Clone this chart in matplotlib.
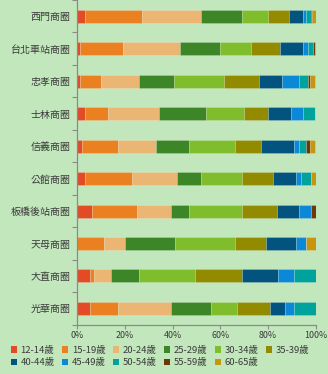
import numpy as np
import matplotlib
matplotlib.use("Agg")
import matplotlib.pyplot as plt
from matplotlib.patches import Patch

plt.rcParams['font.family'] = ['Noto Sans CJK TC', 'DejaVu Sans']

# Data (percent share of each age group per shopping district)
districts = ["西門商圈", "台北車站商圈", "忠孝商圈", "士林商圈", "信義商圈",
             "公館商圈", "板橋後站商圈", "天母商圈", "大直商圈", "光華商圈"]
age_groups = ["12-14歲", "15-19歲", "20-24歲", "25-29歲", "30-34歲", "35-39歲",
              "40-44歲", "45-49歲", "50-54歲", "55-59歲", "60-65歲"]

a12_14 = [3.1, 1.1, 1.1, 3.1, 2.0, 3.1, 6.0, 0.0, 5.2, 5.2]
a15_19 = [24.1, 18.1, 8.7, 9.8, 15.1, 19.9, 18.9, 11.1, 1.7, 11.8]
a20_24 = [24.8, 23.8, 16.0, 21.2, 15.8, 18.9, 14.2, 9.0, 7.2, 22.2]
a25_29 = [17.0, 16.8, 14.7, 19.9, 14.0, 10.1, 7.7, 20.9, 11.8, 16.8]
a30_34 = [11.1, 13.3, 21.0, 16.1, 19.2, 17.1, 22.3, 25.2, 23.4, 11.1]
a35_39 = [8.8, 11.8, 14.7, 10.0, 10.8, 12.9, 14.9, 12.9, 19.8, 13.9]
a40_44 = [6.0, 10.0, 9.8, 9.8, 14.0, 10.0, 9.0, 12.9, 15.0, 6.0]
a45_49 = [1.1, 2.1, 6.9, 5.0, 2.1, 2.0, 4.9, 3.8, 6.9, 3.9]
a50_54 = [2.0, 1.8, 4.1, 5.0, 2.9, 3.9, 0.3, 0.0, 9.1, 9.1]
a55_59 = [0.7, 0.8, 0.7, 0.0, 1.8, 0.0, 1.8, 0.0, 0.0, 0.0]
a60_65 = [1.3, 0.3, 2.2, 0.0, 2.1, 2.1, 0.0, 4.2, 0.0, 0.0]

series = [a12_14, a15_19, a20_24, a25_29, a30_34, a35_39,
          a40_44, a45_49, a50_54, a55_59, a60_65]
colors = ["#e34a26", "#ea801f", "#ebb674", "#3c8628", "#80bd2c", "#928b00",
          "#02547f", "#0b89d8", "#00a29c", "#6b3a08", "#c8950f"]

bg = "#c3e7bd"
fig = plt.figure(figsize=(3.28, 3.74), dpi=100, facecolor=bg)
ax = fig.add_axes([0.236, 0.132, 0.726, 0.868], facecolor=bg)

y = np.arange(len(districts))
left = np.zeros(len(districts))
for vals, c, name in zip(series, colors, age_groups):
    vals = np.array(vals)
    ax.barh(y, vals, left=left, height=0.4, color=c,
            edgecolor=(1, 1, 1, 0.25), linewidth=0.5, label=name)
    left += vals

ax.set_ylim(len(districts) - 0.5, -0.5)
ax.set_xlim(0, 100)

# category labels centered, tick marks on boundaries
ax.set_yticks(y)
ax.set_yticklabels(districts, fontsize=7.2, color="#3a3a3a")
ax.tick_params(axis="y", which="major", length=0, pad=5)
ax.set_yticks(np.arange(-0.5, len(districts) + 0.5, 1), minor=True)
ax.tick_params(axis="y", which="minor", length=3.5, color="#8a8a8a", width=0.8)

ax.set_xticks(np.arange(0, 101, 20))
ax.set_xticklabels([f"{v}%" for v in range(0, 101, 20)], fontsize=6.4,
                   color="#3a3a3a")
ax.tick_params(axis="x", length=3, color="#8a8a8a", width=0.8, pad=1.5)

for s in ["top", "right"]:
    ax.spines[s].set_visible(False)
for s in ["left", "bottom"]:
    ax.spines[s].set_color("#8a8a8a")
    ax.spines[s].set_linewidth(0.9)

# legend: 2 rows of 6, filled row by row
handles = [Patch(facecolor=c, label=n) for c, n in zip(colors, age_groups)]
order = [0, 6, 1, 7, 2, 8, 3, 9, 4, 10, 5]
leg = fig.legend([handles[i] for i in order], [age_groups[i] for i in order],
                 ncol=6, loc="lower left", bbox_to_anchor=(0.012, 0.0),
                 frameon=False, fontsize=6.8, handlelength=0.7,
                 handleheight=0.7, handletextpad=0.35, columnspacing=0.75,
                 labelspacing=0.35, borderaxespad=0.3)
for t in leg.get_texts():
    t.set_color("#3a3a3a")

fig.savefig("out.png", dpi=100, facecolor=bg)
